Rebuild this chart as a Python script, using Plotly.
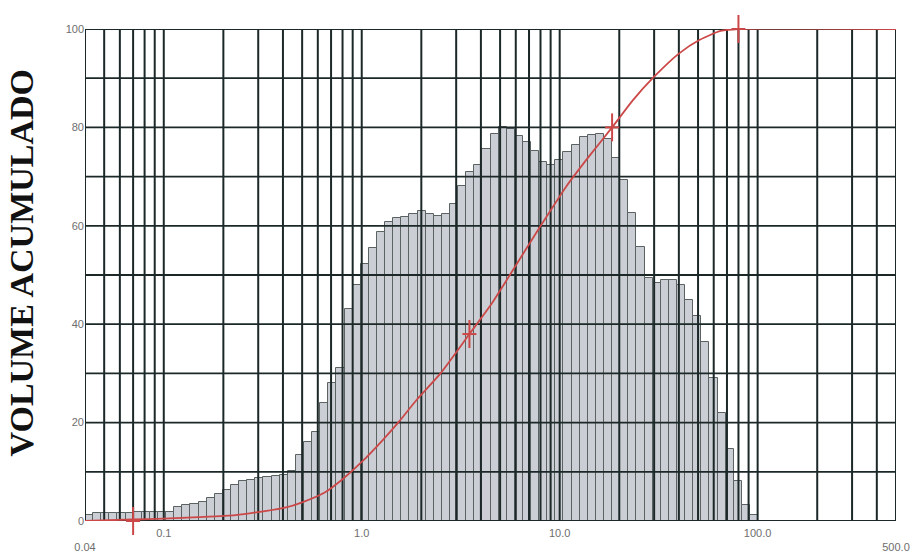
import numpy as np
import plotly.graph_objects as go

# ---- data ----
size_min, size_max, n_classes = 0.04, 500.0, 100   # particle size range (µm), size classes
hist_values = [
    1.3, 1.7, 1.7, 1.7, 1.7, 1.7, 1.8, 1.8, 1.8, 1.8,
    1.9, 2.9, 3.2, 3.5, 3.9, 4.6, 5.5, 6.3, 7.3, 8.1,
    8.4, 8.7, 9.0, 9.2, 9.4, 10.2, 13.5, 16.0, 18.0, 24.0,
    28.0, 31.0, 43.0, 48.0, 52.3, 55.5, 58.7, 60.7, 61.6, 61.8,
    62.3, 63.0, 62.3, 62.0, 62.5, 64.5, 68.0, 71.0, 72.3, 75.7,
    78.7, 80.0, 79.7, 78.3, 77.0, 75.3, 73.0, 72.3, 73.3, 75.0,
    76.5, 78.0, 78.5, 78.6, 77.6, 73.8, 69.3, 62.7, 55.7, 49.3,
    48.3, 49.0, 49.0, 48.0, 45.0, 41.7, 36.3, 29.0, 22.0, 14.7,
    8.2, 3.3, 1.3, 0, 0, 0, 0, 0, 0, 0,
    0, 0, 0, 0, 0, 0, 0, 0, 0, 0,
]
cum_sizes = [0.04, 0.07, 0.1, 0.15, 0.23, 0.3, 0.41, 0.5, 0.65, 0.8, 1.0, 1.28, 1.55,
             1.9, 2.5, 3.5, 4.5, 5.5, 7.9, 10.8, 14.0, 18.4, 23.4, 30.0, 40.0, 51.0,
             65.0, 80.0, 500.0]
cum_values = [0, 0.3, 0.5, 0.8, 1.2, 1.8, 2.7, 3.8, 5.8, 8.5, 12.0, 16.5, 20.3,
              24.7, 30.0, 38.0, 44.0, 49.5, 59.6, 68.0, 74.0, 80.0, 85.5, 90.3, 95.0,
              97.8, 99.6, 100.0, 100.0]
mark_sizes = [0.07, 3.5, 18.4, 80.0]
mark_values = [0, 38.0, 80.0, 100.0]
x_tick_sizes = [0.04, 0.1, 1.0, 10.0, 100.0, 500.0]
x_tick_text = ["<br>0.04", "0.1", "1.0", "10.0", "100.0", "<br>500.0"]
y_ticks = [0, 20, 40, 60, 80, 100]
grid_sizes = ([0.04, 0.05, 0.06, 0.07, 0.08, 0.09] +
              [k / 10 for k in range(1, 10)] + [float(k) for k in range(1, 10)] +
              [10.0 * k for k in range(1, 10)] + [100.0 * k for k in range(1, 6)])
grid_levels = list(range(0, 101, 10))
y_title = "VOLUME ACUMULADO"

# ---- derived positions (log10 of size on a linear axis) ----
lmin, lmax = np.log10(size_min), np.log10(size_max)
edges = np.linspace(lmin, lmax, n_classes + 1)
centers = (edges[:-1] + edges[1:]) / 2
widths = np.diff(edges)

GRID = "#1c2828"
RED = "#cc4848"
TICKFONT = dict(family="Liberation Sans, Arial", size=11, color="#6e6e6e")

fig = go.Figure()
fig.add_trace(go.Bar(
    x=centers, y=hist_values, width=widths,
    marker=dict(color="#cbced4", line=dict(color="#5a6262", width=1)),
    showlegend=False, hoverinfo="skip"))

# grid drawn above the bars (as in the reference)
gx, gy = [], []
for s in grid_sizes:
    v = np.log10(s)
    gx += [v, v, None]
    gy += [0, 100, None]
fig.add_trace(go.Scatter(x=gx, y=gy, mode="lines", line=dict(color=GRID, width=2),
                         showlegend=False, hoverinfo="skip"))
hx, hy = [], []
for lv in grid_levels:
    hx += [lmin, lmax, None]
    hy += [lv, lv, None]
fig.add_trace(go.Scatter(x=hx, y=hy, mode="lines", line=dict(color=GRID, width=1.8),
                         showlegend=False, hoverinfo="skip"))

# cumulative curve
fig.add_trace(go.Scatter(x=np.log10(cum_sizes), y=cum_values, mode="lines",
                         line=dict(color=RED, width=1.8, shape="spline", smoothing=0.6),
                         showlegend=False, cliponaxis=False))
fig.add_trace(go.Scatter(x=np.log10(mark_sizes), y=mark_values, mode="markers",
                         marker=dict(symbol="line-ns", size=20, line=dict(color=RED, width=2)),
                         showlegend=False, cliponaxis=False))
fig.add_trace(go.Scatter(x=np.log10(mark_sizes), y=mark_values, mode="markers",
                         marker=dict(symbol="line-ew", size=10, line=dict(color=RED, width=2)),
                         showlegend=False, cliponaxis=False))

fig.update_layout(
    width=918, height=555,
    margin=dict(l=85, r=22, t=29, b=34),
    paper_bgcolor="white", plot_bgcolor="white",
    bargap=0,
    xaxis=dict(range=[lmin, lmax], showgrid=False, zeroline=False, showline=False,
               tickmode="array", tickvals=np.log10(x_tick_sizes), ticktext=x_tick_text,
               ticks="", ticklabelstandoff=4, tickfont=TICKFONT, automargin=False),
    yaxis=dict(range=[0, 100], showgrid=False, zeroline=False, showline=False,
               tickmode="array", tickvals=y_ticks, ticks="", tickfont=TICKFONT,
               automargin=False),
    annotations=[dict(text="<b>" + y_title + "</b>", textangle=-90, xref="paper", yref="paper",
                      x=-0.078, y=0.525, xanchor="center", yanchor="middle", showarrow=False,
                      font=dict(family="Liberation Serif, Times New Roman", size=34, color="#111"))],
)

fig.write_html("out.html")
